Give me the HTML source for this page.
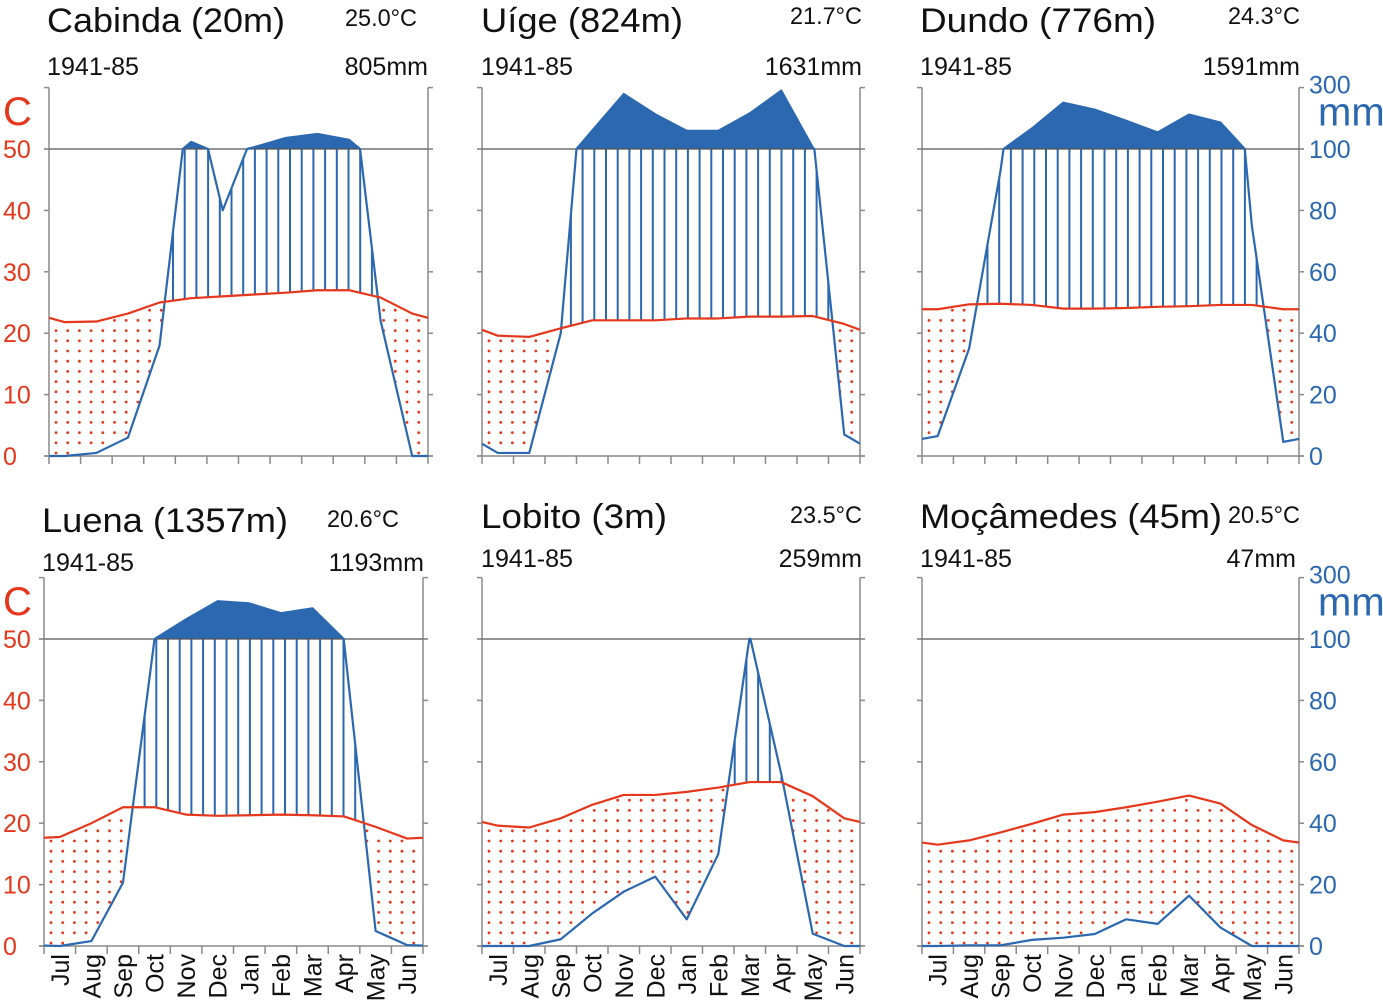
<!DOCTYPE html>
<html><head><meta charset="utf-8"><style>
html,body{margin:0;padding:0;background:#fff;}
svg{display:block;font-family:"Liberation Sans",sans-serif;}
</style></head><body>
<svg id="chart" width="1383" height="1004" viewBox="0 0 1383 1004"></svg>
<script>
const months = ["Jul","Aug","Sep","Oct","Nov","Dec","Jan","Feb","Mar","Apr","May","Jun"];
const tempTicks = [0,10,20,30,40,50];
const precipTickLabels = ["0","20","40","60","80","100"];
const cabindaTemp = [21.8,21.9,23.2,25.0,25.7,26.0,26.3,26.6,27.0,27.0,25.8,23.2];
const cabindaPrecip = [0,1,6,36,123,80,106,136,149,130,44,0];
const uigeTemp = [19.6,19.4,20.8,22.1,22.1,22.1,22.4,22.4,22.7,22.7,22.8,21.5];
const uigePrecip = [1,1,40,160,279,213,159,159,216,290,105,7];
const dundoTemp = [23.9,24.7,24.8,24.6,24.0,24.0,24.1,24.3,24.4,24.6,24.6,23.9];
const dundoPrecip = [6.5,35,93,167,251,228,192,154,212,186,75,4.6];
const luenaTemp = [17.75,20.0,22.6,22.6,21.4,21.2,21.3,21.4,21.3,21.1,19.4,17.5];
const luenaPrecip = [0,1.6,20.6,100,164,223,216,184,200,99,4.9,0.3];
const lobitoTemp = [19.6,19.3,20.8,23.0,24.6,24.6,25.1,25.8,26.7,26.7,24.4,20.8];
const lobitoPrecip = [0,0,2.2,10.6,17.7,22.6,8.7,29.9,101,56,4,0];
const mocamedesTemp = [16.5,17.2,18.5,19.9,21.4,21.8,22.6,23.5,24.5,23.2,19.7,17.2];
const mocamedesPrecip = [0,0.2,0.2,2,2.7,3.9,8.7,7.2,16.4,6,0,0];

const NS="http://www.w3.org/2000/svg";
const svg=document.getElementById('chart');
const RED="#e4371c", BLUE="#2b68b0", GREY="#8a8a8a";
function el(tag,attrs,parent){const e=document.createElementNS(NS,tag);for(const k in attrs)e.setAttribute(k,attrs[k]);(parent||svg).appendChild(e);return e;}

const panels=[
 {id:"cabinda",title:"Cabinda (20m)",tmean:"25.0°C",total:"805mm",L:49,R:428,y0:456,temp:cabindaTemp,precip:cabindaPrecip,
  tx:47,tw:238,ty:32,mx:345,mw:72,my:26,px:428,py:75,leftAxis:true,rightAxis:false,monthsLabels:false},
 {id:"uige",title:"Uíge (824m)",tmean:"21.7°C",total:"1631mm",L:482,R:860,y0:456,temp:uigeTemp,precip:uigePrecip,
  tx:481,tw:202,ty:32,mx:790,mw:72,my:24,px:862,py:75,leftAxis:false,rightAxis:false,monthsLabels:false},
 {id:"dundo",title:"Dundo (776m)",tmean:"24.3°C",total:"1591mm",L:922,R:1299,y0:456,temp:dundoTemp,precip:dundoPrecip,
  tx:920,tw:236,ty:32,mx:1228,mw:72,my:24,px:1300,py:75,leftAxis:false,rightAxis:true,monthsLabels:false},
 {id:"luena",title:"Luena (1357m)",tmean:"20.6°C",total:"1193mm",L:44,R:423,y0:946,temp:luenaTemp,precip:luenaPrecip,
  tx:42,tw:246,ty:532,mx:327,mw:72,my:527,px:424,py:571,leftAxis:true,rightAxis:false,monthsLabels:true},
 {id:"lobito",title:"Lobito (3m)",tmean:"23.5°C",total:"259mm",L:482,R:860,y0:946,temp:lobitoTemp,precip:lobitoPrecip,
  tx:481,tw:186,ty:528,mx:790,mw:72,my:523,px:862,py:567,leftAxis:false,rightAxis:false,monthsLabels:true},
 {id:"mocamedes",title:"Moçâmedes (45m)",tmean:"20.5°C",total:"47mm",L:922,R:1299,y0:946,temp:mocamedesTemp,precip:mocamedesPrecip,
  tx:920,tw:302,ty:528,mx:1228,mw:72,my:523,px:1296,py:567,leftAxis:false,rightAxis:true,monthsLabels:true}
];

const UNIT=6.14;

panels.forEach(p=>{
 const g=el('g',{});
 
 
 const L=p.L,R=p.R,y0=p.y0,y50=y0-50*UNIT,yTop=y50-10*UNIT;
 const w=(R-L)/12;
 const xM=i=>L+(i+0.5)*w;
 const tY=t=>y0-t*UNIT;
 const pY=mm=>mm<=100?y0-mm/2*UNIT:y50-(mm-100)/200*10*UNIT;
 const rawPts=arr=>{const e=(arr[11]+arr[0])/2;const pts=[[L,e]];arr.forEach((v,i)=>pts.push([xM(i),v]));pts.push([R,e]);return pts;};
 const tPts=rawPts(p.temp).map(q=>[q[0],tY(q[1])]);
 const pr=rawPts(p.precip);
 const pPts=[];
 for(let i=0;i<pr.length;i++){
  if(i>0){
   const a=pr[i-1],b=pr[i];
   if((a[1]-100)*(b[1]-100)<0){
    const f=(100-a[1])/(b[1]-a[1]);
    pPts.push([a[0]+f*(b[0]-a[0]),y50]);
   }
  }
  pPts.push([pr[i][0],pY(pr[i][1])]);
 }
 const interp=(pts,x)=>{for(let i=0;i<pts.length-1;i++){const a=pts[i],b=pts[i+1];if(x>=a[0]&&x<=b[0]){return a[1]+(b[1]-a[1])*(x-a[0])/(b[0]-a[0]);}}return pts[pts.length-1][1];};

 const hatch=el('g',{},g);
 
 
 for(let x=L+7;x<R-1;x+=11.7){
  const ty=interp(tPts,x), py=interp(pPts,x);
  if(py<ty){
   const ln=el('line',{x1:x,x2:x,y1:ty,y2:Math.max(py,y50),stroke:BLUE,'stroke-width':2},hatch);
   
   
  } else {
   for(let y=y0-3;y>ty+3;y-=10.2){
    if(y<py-2){
     const d=el('circle',{cx:x,cy:y,r:1.4,fill:RED},hatch);
     
     
    }
   }
  }
 }
 const cid='clip-'+p.id;
 const cp=el('clipPath',{id:cid},g);
 el('rect',{x:L-10,y:0,width:R-L+20,height:y50},cp);
 const fillPts=pPts.map(q=>q.join(',')).join(' ')+` ${R},${y0} ${L},${y0}`;
 const fill=el('polygon',{points:fillPts,fill:BLUE,'clip-path':`url(#${cid})`},g);
 
 

 const ax=el('g',{},g);
 
 
 el('line',{x1:L,x2:L,y1:yTop,y2:y0,stroke:GREY,'stroke-width':1.5},ax);
 el('line',{x1:R,x2:R,y1:yTop,y2:y0,stroke:GREY,'stroke-width':1.5},ax);
 el('line',{x1:L-5,x2:R+5,y1:y0,y2:y0,stroke:GREY,'stroke-width':1.5},ax);
 el('line',{x1:L-5,x2:R+5,y1:y50,y2:y50,stroke:"#555",'stroke-width':1.2},ax);
 tempTicks.concat([60]).forEach(t=>{
  el('line',{x1:L-5,x2:L,y1:tY(t),y2:tY(t),stroke:GREY,'stroke-width':1.5},ax);
  el('line',{x1:R,x2:R+5,y1:tY(t),y2:tY(t),stroke:GREY,'stroke-width':1.5},ax);
 });
 for(let i=0;i<=12;i++){
  el('line',{x1:L+i*w,x2:L+i*w,y1:y0,y2:y0+8,stroke:GREY,'stroke-width':1.5},ax);
 }

 const pl=el('polyline',{points:pPts.map(q=>q.join(',')).join(' '),fill:'none',stroke:BLUE,'stroke-width':2.2,'stroke-linejoin':'round'},g);
 
 
 const tl=el('polyline',{points:tPts.map(q=>q.join(',')).join(' '),fill:'none',stroke:RED,'stroke-width':2.2,'stroke-linejoin':'round'},g);
 
 

 const t1=el('text',{x:p.tx,y:p.ty,'font-size':34,fill:'#111',textLength:p.tw,lengthAdjust:'spacingAndGlyphs'},g);
 t1.textContent=p.title;
 
 
 const t2=el('text',{x:p.mx,y:p.my,'font-size':24,fill:'#111',textLength:p.mw,lengthAdjust:'spacingAndGlyphs'},g);
 t2.textContent=p.tmean;
 
 
 const t3=el('text',{x:p.tx,y:p.py,'font-size':25,fill:'#111',textLength:92,lengthAdjust:'spacingAndGlyphs'},g);
 t3.textContent="1941-85";
 
 
 const t4=el('text',{x:p.px,y:p.py,'font-size':25,fill:'#111','text-anchor':'end'},g);
 t4.textContent=p.total;
 
 

 if(p.leftAxis){
  const c=el('text',{x:3,y:y50-24,'font-size':40,fill:RED},g);
  c.textContent="C";
  
  
  tempTicks.forEach(t=>{
   const lb=el('text',{x:3,y:tY(t)+9,'font-size':25,fill:RED},g);
   lb.textContent=String(t);
   
   
  });
 }
 if(p.rightAxis){
  const top=el('text',{x:R+10,y:yTop+6,'font-size':25,fill:BLUE},g);
  top.textContent="300";
  
  
  const mm=el('text',{x:R+19,y:yTop+38,'font-size':40,fill:BLUE},g);
  mm.textContent="mm";
  
  
  precipTickLabels.forEach((s,i)=>{
   const lb=el('text',{x:R+10,y:tY(i*10)+9,'font-size':25,fill:BLUE},g);
   lb.textContent=s;
   
   
  });
 }
 if(p.monthsLabels){
  months.forEach((m,i)=>{
   const x=xM(i)+9;
   const lb=el('text',{x:0,y:0,'font-size':25,fill:'#111','text-anchor':'end',transform:`translate(${x},${y0+8}) rotate(-90)`},g);
   lb.textContent=m;
   
   
  });
 }
});
</script>
</body></html>
